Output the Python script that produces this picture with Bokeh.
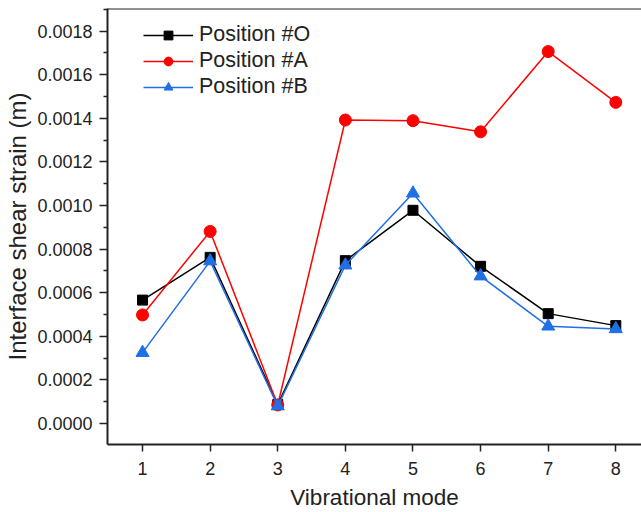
from bokeh.plotting import figure
from bokeh.models import Range1d, FixedTicker, PrintfTickFormatter, Legend, LegendItem, Span
from bokeh.embed import file_html
from bokeh.resources import INLINE

modes = [1, 2, 3, 4, 5, 6, 7, 8]
pos_o = [0.000566, 0.000762, 0.000087, 0.000747, 0.000978, 0.000721, 0.000504, 0.000449]
pos_a = [0.000498, 0.000881, 0.000085, 0.001392, 0.001389, 0.001338, 0.001706, 0.001473]
pos_b = [0.000325, 0.000745, 0.000080, 0.000726, 0.001056, 0.000676, 0.000446, 0.000434]
y_ticks = [0.0, 0.0002, 0.0004, 0.0006, 0.0008, 0.0010, 0.0012, 0.0014, 0.0016, 0.0018]
labels = ["Position #O", "Position #A", "Position #B"]

FONT = "Liberation Sans"
BLUE = "#1F6FE5"

p = figure(width=641, height=512, output_backend="svg", toolbar_location=None,
           x_range=Range1d(0.482, 8.38), y_range=Range1d(-0.0000963, 0.0019036),
           min_border_left=107, min_border_right=0, min_border_top=8, min_border_bottom=68)
p.outline_line_color = None
p.grid.visible = False
p.background_fill_color = "white"
p.border_fill_color = "white"

r_o = p.line(modes, pos_o, line_color="black", line_width=1.5)
m_o = p.scatter(modes, pos_o, marker="square", size=10, fill_color="black", line_color="black")
r_a = p.line(modes, pos_a, line_color="red", line_width=1.5)
m_a = p.scatter(modes, pos_a, marker="circle", size=12, fill_color="red", line_color="red")
r_b = p.line(modes, pos_b, line_color=BLUE, line_width=1.5)
m_b = p.scatter(modes, pos_b, marker="triangle", size=13, fill_color=BLUE, line_color=BLUE)

top = Span(location=0.0019036, dimension="width", line_color="#222222", line_width=2)
p.add_layout(top)

for ax in (p.xaxis[0], p.yaxis[0]):
    ax.axis_line_color = "#222222"
    ax.axis_line_width = 2
    ax.major_tick_line_color = "#222222"
    ax.major_tick_line_width = 1.5
    ax.minor_tick_line_color = "#222222"
    ax.minor_tick_line_width = 1.5
    ax.major_tick_in = 0
    ax.minor_tick_in = 0
    ax.major_label_text_font = FONT
    ax.major_label_text_font_size = "18px"
    ax.major_label_text_color = "#222222"
    ax.axis_label_text_font = FONT
    ax.axis_label_text_font_style = "normal"
    ax.axis_label_text_color = "#222222"

p.xaxis.ticker = FixedTicker(ticks=modes)
p.xaxis.major_tick_out = 7
p.xaxis.minor_tick_out = 0
p.xaxis.major_label_standoff = 10
p.xaxis.axis_label = "Vibrational mode"
p.xaxis.axis_label_text_font_size = "22.5px"
p.xaxis.axis_label_standoff = 7

p.yaxis.ticker = FixedTicker(ticks=y_ticks,
                             minor_ticks=[-0.0001 + 0.0002 * i for i in range(11)])
p.yaxis.major_tick_out = 8
p.yaxis.minor_tick_out = 4
p.yaxis.formatter = PrintfTickFormatter(format="%.4f")
p.yaxis.major_label_standoff = 7
p.yaxis.axis_label = "Interface shear strain (m)"
p.yaxis.axis_label_text_font_size = "24px"
p.yaxis.axis_label_standoff = 3

legend = Legend(items=[LegendItem(label=labels[0], renderers=[r_o, m_o]),
                       LegendItem(label=labels[1], renderers=[r_a, m_a]),
                       LegendItem(label=labels[2], renderers=[r_b, m_b])],
                location=(36, 345))
legend.border_line_color = None
legend.background_fill_alpha = 0
legend.label_text_font = FONT
legend.label_text_font_size = "21.5px"
legend.label_text_color = "#222222"
legend.glyph_width = 50
legend.glyph_height = 22
legend.label_height = 22
legend.spacing = 1
legend.margin = 0
legend.padding = 0
legend.label_standoff = 6
p.add_layout(legend)

open("out.html", "w").write(file_html(p, INLINE))
